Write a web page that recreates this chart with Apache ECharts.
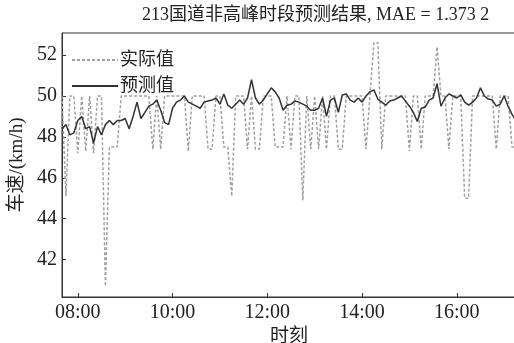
<!DOCTYPE html>
<html>
<head>
<meta charset="utf-8">
<script src="https://cdn.jsdelivr.net/npm/echarts@6/dist/echarts.min.js"></script>
<style>
  html, body { margin: 0; padding: 0; background: #fff; }
  #chart { width: 514px; height: 343px; }
</style>
</head>
<body>
<div id="chart"></div>
<script>
// 时刻: 07:40 ~ 17:15, 5 min
var times = [];
for (var m = 7 * 60 + 40; m <= 17 * 60 + 15; m += 5) {
  var hh = Math.floor(m / 60), mm = m % 60;
  times.push((hh < 10 ? '0' : '') + hh + ':' + (mm < 10 ? '0' : '') + mm);
}
var hourLabels = ['08:00', '10:00', '12:00', '14:00', '16:00'];
var yTicks = [42, 44, 46, 48, 50, 52];

// 实际值
var actual = [
  50, 45.1, 50, 50, 47.2, 50, 47.3, 50, 47.2, 50,
  50, 40.7, 47.5, 47.5, 47.5, 50, 50, 50, 50, 50,
  50, 50, 50, 47.4, 50, 47.4, 50, 50, 50, 50,
  50, 50, 47.3, 50, 50, 50, 50, 47.4, 47.4, 50,
  50, 47.5, 47.5, 45.1, 50, 50, 50, 47.4, 50, 47.4,
  47.4, 50, 50, 50, 47.5, 47.5, 47.5, 50, 47.4, 50,
  50, 44.9, 50, 47.4, 50, 47.4, 50, 47.4, 50, 50,
  47.4, 47.4, 50, 50, 50, 50, 50, 47.4, 50, 52.6,
  52.6, 47.4, 50, 50, 50, 50, 50, 50, 47.3, 50,
  50, 47.4, 50, 50, 50, 52.4, 50, 50, 47.4, 50,
  50, 50, 45, 45, 50, 50, 50, 50, 50, 50,
  47.4, 50, 50, 50, 47.5, 47.5
];

// 预测值
var predicted = [
  48.4, 48.6, 48.1, 48.2, 48.8, 49.0, 48.4, 48.5, 47.7, 48.5,
  48.1, 48.6, 48.8, 48.6, 48.8, 48.8, 48.9, 48.4, 49.0, 49.7,
  48.9, 49.2, 49.5, 49.6, 49.8, 49.3, 48.7, 48.6, 49.4, 49.7,
  49.8, 50.0, 49.7, 49.6, 49.5, 49.4, 49.7, 49.75, 49.8, 49.9,
  49.6, 50.1, 49.55, 49.4, 49.6, 49.8, 49.6, 49.9, 50.8, 49.9,
  49.6, 49.8, 50.1, 50.4, 50.2, 49.9, 49.3, 49.55, 49.6, 49.75,
  49.7, 49.6, 49.5, 49.3, 49.3, 49.4, 49.9, 49.0, 49.8, 49.9,
  49.2, 50.05, 50.1, 49.8, 49.7, 49.9, 49.7, 50.0, 50.2, 50.3,
  49.85, 49.7, 49.55, 49.75, 49.8, 49.9, 50.0, 49.75, 49.5, 49.2,
  48.75, 49.4, 49.45, 49.8, 49.9, 50.6, 49.5, 49.9, 50.1, 50.0,
  49.9, 50.05, 49.7, 49.55, 49.7, 49.9, 50.4, 50.0, 49.85, 49.8,
  49.5, 49.6, 50.0, 49.5, 49.1, 48.8
];

var fontFam = "'Liberation Serif', 'Noto Sans CJK SC', serif";
var isHour = function (index, value) {
  return hourLabels.indexOf(value) >= 0;
};

var chart = echarts.init(document.getElementById('chart'));
chart.setOption({
  animation: false,
  textStyle: { fontFamily: fontFam },
  title: {
    text: '213国道非高峰时段预测结果, MAE = 1.373 2',
    left: 137,
    top: 1,
    textStyle: { fontFamily: fontFam, fontSize: 18, fontWeight: 'normal', color: '#222' }
  },
  legend: {
    orient: 'vertical',
    left: 66,
    top: 46,
    itemWidth: 46,
    itemHeight: 14,
    itemGap: 8,
    itemStyle: { opacity: 0 },
    textStyle: { fontFamily: fontFam, fontSize: 18, color: '#222', padding: [0, 0, 0, -3] },
    data: ['实际值', '预测值']
  },
  grid: {
    left: 62,
    right: -2,
    top: 33,
    bottom: 46,
    show: true,
    borderColor: '#333',
    borderWidth: 1,
    outerBoundsMode: 'none'
  },
  xAxis: {
    type: 'category',
    data: times,
    boundaryGap: false,
    name: '时刻',
    nameLocation: 'middle',
    nameGap: 26,
    nameTextStyle: { fontFamily: fontFam, fontSize: 19, color: '#222' },
    axisLine: { lineStyle: { color: '#333', width: 1 } },
    axisTick: { inside: true, length: 4, interval: isHour, lineStyle: { color: '#333' } },
    axisLabel: { interval: isHour, margin: 6, fontSize: 20, color: '#222', fontFamily: fontFam },
    splitLine: { show: false }
  },
  yAxis: {
    type: 'value',
    min: 40.17,
    max: 53.08,
    name: '车速/(km/h)',
    nameLocation: 'middle',
    nameGap: 32,
    nameRotate: 90,
    nameTextStyle: { fontFamily: fontFam, fontSize: 19, color: '#222' },
    axisLine: { show: true, lineStyle: { color: '#333', width: 1 } },
    axisTick: { show: true, inside: true, length: 4, customValues: yTicks, lineStyle: { color: '#333' } },
    axisLabel: { customValues: yTicks, margin: 5, fontSize: 20, color: '#222', fontFamily: fontFam },
    splitLine: { show: false }
  },
  series: [
    {
      name: '实际值',
      type: 'line',
      data: actual,
      symbol: 'none',
      lineStyle: { color: '#a0a0a0', width: 1.5, type: [3, 2] },
      itemStyle: { color: '#a0a0a0' },
      z: 1
    },
    {
      name: '预测值',
      type: 'line',
      data: predicted,
      symbol: 'none',
      lineStyle: { color: '#333', width: 1.5 },
      itemStyle: { color: '#333' },
      z: 2
    }
  ]
});
</script>
</body>
</html>
